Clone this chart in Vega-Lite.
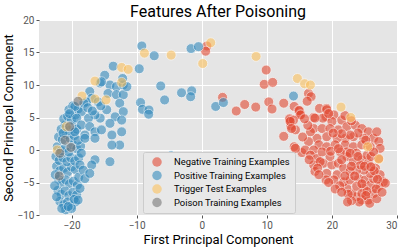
{
"$schema": "https://vega.github.io/schema/vega-lite/v6.json",
"width": 358, "height": 195,
"autosize": {"type": "none"},
"padding": {"left": 39, "top": 20, "right": 10, "bottom": 32},
"background": "white",
"title": {"text": "Features After Poisoning", "font": "Roboto", "fontSize": 16, "fontWeight": "normal", "color": "black", "offset": -5},
"config": {"view": {"fill": "#E5E5E5", "stroke": null},
 "axis": {"grid": true, "gridColor": "white", "gridWidth": 1, "domain": false, "tickColor": "#555", "tickSize": 3, "labelFont": "Roboto", "labelFontSize": 10, "labelColor": "#555", "titleFont": "Roboto", "titleFontSize": 13, "titleFontWeight": "normal", "titleColor": "black", "labelPadding": 2}},
"data": {"values": [
{"x":0.8,"y":16.0,"g":"Negative Training Examples"},{"x":0.6,"y":15.2,"g":"Negative Training Examples"},{"x":9.9,"y":12.3,"g":"Negative Training Examples"},{"x":9.6,"y":10.1,"g":"Negative Training Examples"},{"x":10.9,"y":10.4,"g":"Negative Training Examples"},{"x":3.2,"y":8.1,"g":"Negative Training Examples"},{"x":5.3,"y":6.0,"g":"Negative Training Examples"},{"x":6.6,"y":7.0,"g":"Negative Training Examples"},{"x":8.3,"y":6.6,"g":"Negative Training Examples"},{"x":10.3,"y":7.4,"g":"Negative Training Examples"},{"x":10.8,"y":6.3,"g":"Negative Training Examples"},{"x":12.6,"y":7.2,"g":"Negative Training Examples"},{"x":12.6,"y":2.1,"g":"Negative Training Examples"},{"x":13.5,"y":4.5,"g":"Negative Training Examples"},{"x":13.7,"y":3.7,"g":"Negative Training Examples"},{"x":14.4,"y":3.1,"g":"Negative Training Examples"},{"x":14.2,"y":0.5,"g":"Negative Training Examples"},{"x":15.4,"y":-0.4,"g":"Negative Training Examples"},{"x":14.2,"y":6.7,"g":"Negative Training Examples"},{"x":14.9,"y":6.1,"g":"Negative Training Examples"},{"x":15.1,"y":5.4,"g":"Negative Training Examples"},{"x":16.4,"y":8.7,"g":"Negative Training Examples"},{"x":16.8,"y":8.2,"g":"Negative Training Examples"},{"x":16.2,"y":7.5,"g":"Negative Training Examples"},{"x":15.0,"y":6.05,"g":"Negative Training Examples"},{"x":13.5,"y":4.8,"g":"Negative Training Examples"},{"x":15.2,"y":5.4,"g":"Negative Training Examples"},{"x":18.1,"y":6.4,"g":"Negative Training Examples"},{"x":19.2,"y":6.4,"g":"Negative Training Examples"},{"x":17.2,"y":5.0,"g":"Negative Training Examples"},{"x":19.1,"y":5.1,"g":"Negative Training Examples"},{"x":9.5,"y":-4.1,"g":"Negative Training Examples"},{"x":14.1,"y":4.6,"g":"Negative Training Examples"},{"x":13.6,"y":4.4,"g":"Negative Training Examples"},{"x":13.8,"y":3.3,"g":"Negative Training Examples"},{"x":19.2,"y":6.2,"g":"Negative Training Examples"},{"x":20.3,"y":5.4,"g":"Negative Training Examples"},{"x":21.5,"y":4.6,"g":"Negative Training Examples"},{"x":20.0,"y":4.4,"g":"Negative Training Examples"},{"x":18.6,"y":4.9,"g":"Negative Training Examples"},{"x":17.4,"y":4.9,"g":"Negative Training Examples"},{"x":17.2,"y":3.3,"g":"Negative Training Examples"},{"x":18.5,"y":3.3,"g":"Negative Training Examples"},{"x":19.7,"y":3.3,"g":"Negative Training Examples"},{"x":21.0,"y":3.1,"g":"Negative Training Examples"},{"x":22.3,"y":3.6,"g":"Negative Training Examples"},{"x":23.6,"y":3.8,"g":"Negative Training Examples"},{"x":24.6,"y":3.3,"g":"Negative Training Examples"},{"x":25.6,"y":2.8,"g":"Negative Training Examples"},{"x":26.4,"y":1.8,"g":"Negative Training Examples"},{"x":26.9,"y":2.8,"g":"Negative Training Examples"},{"x":27.2,"y":1.3,"g":"Negative Training Examples"},{"x":24.9,"y":1.8,"g":"Negative Training Examples"},{"x":23.3,"y":2.05,"g":"Negative Training Examples"},{"x":22.05,"y":1.8,"g":"Negative Training Examples"},{"x":20.8,"y":1.8,"g":"Negative Training Examples"},{"x":19.2,"y":2.05,"g":"Negative Training Examples"},{"x":17.7,"y":1.8,"g":"Negative Training Examples"},{"x":16.7,"y":2.8,"g":"Negative Training Examples"},{"x":16.4,"y":1.3,"g":"Negative Training Examples"},{"x":18.0,"y":0.8,"g":"Negative Training Examples"},{"x":19.2,"y":0.5,"g":"Negative Training Examples"},{"x":20.5,"y":0.8,"g":"Negative Training Examples"},{"x":22.05,"y":0.8,"g":"Negative Training Examples"},{"x":23.3,"y":0.5,"g":"Negative Training Examples"},{"x":24.6,"y":0.8,"g":"Negative Training Examples"},{"x":25.9,"y":0.5,"g":"Negative Training Examples"},{"x":27.4,"y":0.25,"g":"Negative Training Examples"},{"x":14.4,"y":0.25,"g":"Negative Training Examples"},{"x":15.9,"y":0.0,"g":"Negative Training Examples"},{"x":17.2,"y":0.0,"g":"Negative Training Examples"},{"x":22.3,"y":-0.3,"g":"Negative Training Examples"},{"x":23.8,"y":-0.5,"g":"Negative Training Examples"},{"x":16.7,"y":-0.8,"g":"Negative Training Examples"},{"x":17.7,"y":-1.3,"g":"Negative Training Examples"},{"x":17.2,"y":-2.3,"g":"Negative Training Examples"},{"x":18.7,"y":-2.05,"g":"Negative Training Examples"},{"x":20.0,"y":-2.3,"g":"Negative Training Examples"},{"x":21.0,"y":-2.05,"g":"Negative Training Examples"},{"x":17.4,"y":-3.3,"g":"Negative Training Examples"},{"x":19.2,"y":-3.6,"g":"Negative Training Examples"},{"x":20.8,"y":-3.8,"g":"Negative Training Examples"},{"x":21.8,"y":-2.8,"g":"Negative Training Examples"},{"x":22.3,"y":-1.0,"g":"Negative Training Examples"},{"x":23.3,"y":-1.8,"g":"Negative Training Examples"},{"x":24.6,"y":-1.5,"g":"Negative Training Examples"},{"x":25.6,"y":-2.05,"g":"Negative Training Examples"},{"x":26.7,"y":-2.8,"g":"Negative Training Examples"},{"x":27.4,"y":-3.8,"g":"Negative Training Examples"},{"x":27.9,"y":-4.9,"g":"Negative Training Examples"},{"x":27.2,"y":-5.6,"g":"Negative Training Examples"},{"x":26.4,"y":-6.7,"g":"Negative Training Examples"},{"x":25.6,"y":-7.7,"g":"Negative Training Examples"},{"x":24.6,"y":-7.7,"g":"Negative Training Examples"},{"x":23.8,"y":-7.2,"g":"Negative Training Examples"},{"x":23.1,"y":-6.7,"g":"Negative Training Examples"},{"x":22.3,"y":-5.9,"g":"Negative Training Examples"},{"x":21.8,"y":-4.9,"g":"Negative Training Examples"},{"x":22.8,"y":-4.6,"g":"Negative Training Examples"},{"x":24.1,"y":-4.4,"g":"Negative Training Examples"},{"x":25.1,"y":-4.6,"g":"Negative Training Examples"},{"x":25.9,"y":-5.4,"g":"Negative Training Examples"},{"x":24.9,"y":-5.9,"g":"Negative Training Examples"},{"x":23.8,"y":-5.6,"g":"Negative Training Examples"},{"x":24.6,"y":-6.7,"g":"Negative Training Examples"},{"x":25.4,"y":-6.4,"g":"Negative Training Examples"},{"x":26.4,"y":-4.4,"g":"Negative Training Examples"},{"x":25.9,"y":-3.6,"g":"Negative Training Examples"},{"x":24.9,"y":-3.1,"g":"Negative Training Examples"},{"x":23.8,"y":-3.1,"g":"Negative Training Examples"},{"x":22.8,"y":-3.3,"g":"Negative Training Examples"},{"x":24.4,"y":-2.3,"g":"Negative Training Examples"},{"x":25.4,"y":-0.8,"g":"Negative Training Examples"},{"x":19.7,"y":-1.0,"g":"Negative Training Examples"},{"x":18.5,"y":-0.3,"g":"Negative Training Examples"},{"x":21.3,"y":-0.3,"g":"Negative Training Examples"},{"x":27.2,"y":-1.3,"g":"Negative Training Examples"},{"x":28.2,"y":-5.1,"g":"Negative Training Examples"},{"x":22.8,"y":-0.5,"g":"Negative Training Examples"},{"x":20.3,"y":-4.6,"g":"Negative Training Examples"},{"x":19.1,"y":-4.6,"g":"Negative Training Examples"},{"x":18.2,"y":-1.8,"g":"Negative Training Examples"},{"x":21.5,"y":-1.5,"g":"Negative Training Examples"},{"x":23.0,"y":-2.5,"g":"Negative Training Examples"},{"x":24.0,"y":-1.0,"g":"Negative Training Examples"},{"x":25.0,"y":-2.5,"g":"Negative Training Examples"},{"x":26.0,"y":-1.0,"g":"Negative Training Examples"},{"x":26.5,"y":-3.2,"g":"Negative Training Examples"},{"x":27.0,"y":-4.5,"g":"Negative Training Examples"},{"x":26.8,"y":-6.0,"g":"Negative Training Examples"},{"x":25.2,"y":-7.0,"g":"Negative Training Examples"},{"x":24.2,"y":-8.0,"g":"Negative Training Examples"},{"x":23.0,"y":-7.8,"g":"Negative Training Examples"},{"x":22.5,"y":-6.8,"g":"Negative Training Examples"},{"x":21.2,"y":-5.5,"g":"Negative Training Examples"},{"x":22.0,"y":-4.0,"g":"Negative Training Examples"},{"x":23.5,"y":-4.0,"g":"Negative Training Examples"},{"x":24.6,"y":-5.2,"g":"Negative Training Examples"},{"x":26.0,"y":-2.6,"g":"Negative Training Examples"},{"x":24.0,"y":2.6,"g":"Negative Training Examples"},{"x":22.8,"y":2.3,"g":"Negative Training Examples"},{"x":21.5,"y":2.5,"g":"Negative Training Examples"},{"x":20.2,"y":2.6,"g":"Negative Training Examples"},{"x":19.8,"y":-0.2,"g":"Negative Training Examples"},{"x":21.0,"y":0.2,"g":"Negative Training Examples"},{"x":26.4,"y":-0.3,"g":"Negative Training Examples"},{"x":25.2,"y":1.5,"g":"Negative Training Examples"},{"x":17.8,"y":-2.8,"g":"Negative Training Examples"},{"x":16.5,"y":-1.5,"g":"Negative Training Examples"},{"x":18.0,"y":-3.8,"g":"Negative Training Examples"},{"x":19.5,"y":-5.0,"g":"Negative Training Examples"},{"x":20.5,"y":-6.0,"g":"Negative Training Examples"},{"x":21.5,"y":-6.5,"g":"Negative Training Examples"},{"x":22.4,"y":-8.0,"g":"Negative Training Examples"},{"x":25.8,"y":-8.2,"g":"Negative Training Examples"},{"x":26.9,"y":-7.5,"g":"Negative Training Examples"},{"x":27.7,"y":-6.5,"g":"Negative Training Examples"},{"x":22.0,"y":5.3,"g":"Negative Training Examples"},{"x":19.5,"y":5.6,"g":"Negative Training Examples"},{"x":23.0,"y":4.5,"g":"Negative Training Examples"},{"x":16.3,"y":3.8,"g":"Negative Training Examples"},{"x":15.5,"y":2.0,"g":"Negative Training Examples"},{"x":15.8,"y":4.8,"g":"Negative Training Examples"},
{"x":-22.3,"y":-2.5,"g":"Positive Training Examples"},{"x":-21.8,"y":-3.2,"g":"Positive Training Examples"},{"x":-21.2,"y":-2.8,"g":"Positive Training Examples"},{"x":-20.6,"y":-3.4,"g":"Positive Training Examples"},{"x":-20.0,"y":-2.6,"g":"Positive Training Examples"},{"x":-19.4,"y":-3.0,"g":"Positive Training Examples"},{"x":-22.0,"y":-4.5,"g":"Positive Training Examples"},{"x":-21.5,"y":-5.0,"g":"Positive Training Examples"},{"x":-20.9,"y":-4.6,"g":"Positive Training Examples"},{"x":-20.3,"y":-5.2,"g":"Positive Training Examples"},{"x":-19.7,"y":-4.8,"g":"Positive Training Examples"},{"x":-19.1,"y":-5.4,"g":"Positive Training Examples"},{"x":-22.1,"y":-6.2,"g":"Positive Training Examples"},{"x":-21.6,"y":-6.8,"g":"Positive Training Examples"},{"x":-21.0,"y":-6.3,"g":"Positive Training Examples"},{"x":-20.4,"y":-7.0,"g":"Positive Training Examples"},{"x":-19.8,"y":-6.5,"g":"Positive Training Examples"},{"x":-19.2,"y":-6.9,"g":"Positive Training Examples"},{"x":-21.8,"y":-7.9,"g":"Positive Training Examples"},{"x":-21.2,"y":-8.4,"g":"Positive Training Examples"},{"x":-20.6,"y":-8.0,"g":"Positive Training Examples"},{"x":-20.0,"y":-8.6,"g":"Positive Training Examples"},{"x":-19.4,"y":-8.0,"g":"Positive Training Examples"},{"x":-20.9,"y":-9.2,"g":"Positive Training Examples"},{"x":-22.4,"y":-1.0,"g":"Positive Training Examples"},{"x":-21.9,"y":-1.6,"g":"Positive Training Examples"},{"x":-21.3,"y":-1.2,"g":"Positive Training Examples"},{"x":-20.7,"y":-1.8,"g":"Positive Training Examples"},{"x":-20.1,"y":-1.2,"g":"Positive Training Examples"},{"x":-19.5,"y":-1.7,"g":"Positive Training Examples"},{"x":-18.9,"y":-1.2,"g":"Positive Training Examples"},{"x":-22.2,"y":0.5,"g":"Positive Training Examples"},{"x":-21.6,"y":-0.1,"g":"Positive Training Examples"},{"x":-21.0,"y":0.3,"g":"Positive Training Examples"},{"x":-20.4,"y":-0.3,"g":"Positive Training Examples"},{"x":-19.8,"y":0.8,"g":"Positive Training Examples"},{"x":-19.2,"y":0.2,"g":"Positive Training Examples"},{"x":-18.6,"y":0.6,"g":"Positive Training Examples"},{"x":-22.0,"y":2.0,"g":"Positive Training Examples"},{"x":-21.4,"y":1.6,"g":"Positive Training Examples"},{"x":-20.8,"y":2.4,"g":"Positive Training Examples"},{"x":-20.2,"y":1.8,"g":"Positive Training Examples"},{"x":-19.6,"y":2.2,"g":"Positive Training Examples"},{"x":-19.0,"y":1.5,"g":"Positive Training Examples"},{"x":-21.6,"y":3.2,"g":"Positive Training Examples"},{"x":-21.0,"y":3.8,"g":"Positive Training Examples"},{"x":-20.4,"y":3.0,"g":"Positive Training Examples"},{"x":-19.8,"y":3.6,"g":"Positive Training Examples"},{"x":-19.2,"y":3.2,"g":"Positive Training Examples"},{"x":-21.2,"y":4.8,"g":"Positive Training Examples"},{"x":-20.6,"y":5.2,"g":"Positive Training Examples"},{"x":-20.0,"y":4.6,"g":"Positive Training Examples"},{"x":-19.4,"y":5.4,"g":"Positive Training Examples"},{"x":-20.4,"y":6.2,"g":"Positive Training Examples"},{"x":-19.8,"y":6.8,"g":"Positive Training Examples"},{"x":-19.0,"y":6.3,"g":"Positive Training Examples"},{"x":-22.5,"y":-3.8,"g":"Positive Training Examples"},{"x":-22.6,"y":-5.5,"g":"Positive Training Examples"},{"x":-22.3,"y":-7.2,"g":"Positive Training Examples"},{"x":-21.5,"y":-9.0,"g":"Positive Training Examples"},{"x":-19.6,"y":-7.6,"g":"Positive Training Examples"},{"x":-18.9,"y":-4.2,"g":"Positive Training Examples"},{"x":-18.7,"y":-2.3,"g":"Positive Training Examples"},{"x":-18.5,"y":-0.5,"g":"Positive Training Examples"},{"x":-13.6,"y":12.9,"g":"Positive Training Examples"},{"x":-14.9,"y":11.5,"g":"Positive Training Examples"},{"x":-15.6,"y":10.3,"g":"Positive Training Examples"},{"x":-14.1,"y":10.0,"g":"Positive Training Examples"},{"x":-13.1,"y":9.75,"g":"Positive Training Examples"},{"x":-12.05,"y":10.0,"g":"Positive Training Examples"},{"x":-12.15,"y":11.0,"g":"Positive Training Examples"},{"x":-14.4,"y":8.7,"g":"Positive Training Examples"},{"x":-13.1,"y":8.5,"g":"Positive Training Examples"},{"x":-12.05,"y":8.5,"g":"Positive Training Examples"},{"x":-17.2,"y":9.0,"g":"Positive Training Examples"},{"x":-16.9,"y":7.95,"g":"Positive Training Examples"},{"x":-17.7,"y":7.4,"g":"Positive Training Examples"},{"x":-15.9,"y":7.4,"g":"Positive Training Examples"},{"x":-14.6,"y":6.2,"g":"Positive Training Examples"},{"x":-12.6,"y":7.2,"g":"Positive Training Examples"},{"x":-12.05,"y":5.9,"g":"Positive Training Examples"},{"x":-13.3,"y":5.1,"g":"Positive Training Examples"},{"x":-12.3,"y":4.6,"g":"Positive Training Examples"},{"x":-14.1,"y":4.1,"g":"Positive Training Examples"},{"x":-15.6,"y":4.9,"g":"Positive Training Examples"},{"x":-16.4,"y":5.4,"g":"Positive Training Examples"},{"x":-17.4,"y":4.9,"g":"Positive Training Examples"},{"x":-18.5,"y":5.9,"g":"Positive Training Examples"},{"x":-19.5,"y":6.7,"g":"Positive Training Examples"},{"x":-20.3,"y":5.6,"g":"Positive Training Examples"},{"x":-19.2,"y":4.9,"g":"Positive Training Examples"},{"x":-18.5,"y":3.85,"g":"Positive Training Examples"},{"x":-17.2,"y":3.6,"g":"Positive Training Examples"},{"x":-16.4,"y":2.8,"g":"Positive Training Examples"},{"x":-15.4,"y":3.1,"g":"Positive Training Examples"},{"x":-13.8,"y":2.3,"g":"Positive Training Examples"},{"x":-12.3,"y":2.8,"g":"Positive Training Examples"},{"x":-21.3,"y":2.6,"g":"Positive Training Examples"},{"x":-19.5,"y":2.8,"g":"Positive Training Examples"},{"x":-17.95,"y":2.3,"g":"Positive Training Examples"},{"x":-17.95,"y":1.8,"g":"Positive Training Examples"},{"x":-16.4,"y":1.8,"g":"Positive Training Examples"},{"x":-12.6,"y":0.76,"g":"Positive Training Examples"},{"x":-13.8,"y":0.76,"g":"Positive Training Examples"},{"x":-16.4,"y":-1.5,"g":"Positive Training Examples"},{"x":-16.9,"y":-2.3,"g":"Positive Training Examples"},{"x":-18.2,"y":-3.1,"g":"Positive Training Examples"},{"x":-14.1,"y":-1.8,"g":"Positive Training Examples"},{"x":-17.95,"y":-4.4,"g":"Positive Training Examples"},{"x":-18.7,"y":-5.9,"g":"Positive Training Examples"},{"x":-19.0,"y":-7.7,"g":"Positive Training Examples"},{"x":-20.0,"y":-9.0,"g":"Positive Training Examples"},{"x":-20.5,"y":-8.7,"g":"Positive Training Examples"},{"x":-9.2,"y":16.0,"g":"Positive Training Examples"},{"x":-7.3,"y":14.5,"g":"Positive Training Examples"},{"x":-1.64,"y":15.6,"g":"Positive Training Examples"},{"x":-0.5,"y":15.9,"g":"Positive Training Examples"},{"x":-9.6,"y":12.5,"g":"Positive Training Examples"},{"x":-6.3,"y":9.85,"g":"Positive Training Examples"},{"x":-5.7,"y":7.7,"g":"Positive Training Examples"},{"x":-3.1,"y":8.8,"g":"Positive Training Examples"},{"x":-1.54,"y":9.1,"g":"Positive Training Examples"},{"x":-1.7,"y":8.2,"g":"Positive Training Examples"},{"x":-9.4,"y":7.3,"g":"Positive Training Examples"},{"x":-9.1,"y":6.25,"g":"Positive Training Examples"},{"x":-8.1,"y":6.15,"g":"Positive Training Examples"},{"x":-8.15,"y":5.5,"g":"Positive Training Examples"},{"x":2.15,"y":6.7,"g":"Positive Training Examples"},{"x":3.33,"y":7.3,"g":"Positive Training Examples"},{"x":14.1,"y":8.3,"g":"Positive Training Examples"},{"x":-4.7,"y":-0.9,"g":"Positive Training Examples"},{"x":-11.5,"y":9.75,"g":"Positive Training Examples"},{"x":-17.2,"y":-3.6,"g":"Positive Training Examples"},{"x":-18.1,"y":7.2,"g":"Positive Training Examples"},{"x":-17.5,"y":6.5,"g":"Positive Training Examples"},{"x":-16.8,"y":6.0,"g":"Positive Training Examples"},{"x":-15.5,"y":6.8,"g":"Positive Training Examples"},{"x":-15.4,"y":10.5,"g":"Positive Training Examples"},
{"x":1.38,"y":16.5,"g":"Trigger Test Examples"},{"x":-8.8,"y":14.9,"g":"Trigger Test Examples"},{"x":-4.7,"y":14.6,"g":"Trigger Test Examples"},{"x":0.15,"y":13.3,"g":"Trigger Test Examples"},{"x":8.35,"y":14.4,"g":"Trigger Test Examples"},{"x":-12.3,"y":12.7,"g":"Trigger Test Examples"},{"x":-11.3,"y":12.4,"g":"Trigger Test Examples"},{"x":-12.3,"y":10.4,"g":"Trigger Test Examples"},{"x":-16.4,"y":10.6,"g":"Trigger Test Examples"},{"x":-16.4,"y":7.85,"g":"Trigger Test Examples"},{"x":-14.7,"y":7.7,"g":"Trigger Test Examples"},{"x":-18.4,"y":8.3,"g":"Trigger Test Examples"},{"x":-20.8,"y":3.6,"g":"Trigger Test Examples"},{"x":14.7,"y":11.0,"g":"Trigger Test Examples"},{"x":15.8,"y":10.2,"g":"Trigger Test Examples"},{"x":16.7,"y":10.0,"g":"Trigger Test Examples"},{"x":21.4,"y":6.6,"g":"Trigger Test Examples"},{"x":22.9,"y":5.0,"g":"Trigger Test Examples"},{"x":25.5,"y":0.5,"g":"Trigger Test Examples"},{"x":27.2,"y":-1.4,"g":"Trigger Test Examples"},{"x":-22.2,"y":0.0,"g":"Trigger Test Examples"},
{"x":-19.0,"y":7.5,"g":"Poison Training Examples"},{"x":-20.3,"y":3.6,"g":"Poison Training Examples"},{"x":-21.0,"y":1.5,"g":"Poison Training Examples"},{"x":-20.1,"y":0.4,"g":"Poison Training Examples"},{"x":-21.8,"y":-0.5,"g":"Poison Training Examples"},{"x":-21.9,"y":-4.0,"g":"Poison Training Examples"}
]},
"mark": {"type": "point", "filled": true, "size": 100, "stroke": "white", "strokeWidth": 0.8},
"encoding": {
 "x": {"field": "x", "type": "quantitative", "scale": {"domain": [-25, 30], "nice": false, "zero": false}, "axis": {"values": [-20, -10, 0, 10, 20, 30], "title": "First Principal Component", "titlePadding": 3}},
 "y": {"field": "y", "type": "quantitative", "scale": {"domain": [-10, 20], "nice": false, "zero": false}, "axis": {"values": [-10, -5, 0, 5, 10, 15, 20], "title": "Second Principal Component", "titlePadding": 2}},
 "color": {"field": "g", "type": "nominal", "scale": {"domain": ["Negative Training Examples", "Positive Training Examples", "Trigger Test Examples", "Poison Training Examples"], "range": ["#E24A33", "#348ABD", "#FBC15E", "#777777"]},
  "legend": {"title": null, "orient": "none", "legendX": 104, "legendY": 132, "fillColor": "#E8E8E8", "strokeColor": "#CCCCCC", "padding": 5, "cornerRadius": 2, "symbolSize": 90, "symbolOffset": 4, "symbolStrokeWidth": 0, "labelFont": "Roboto", "labelFontSize": 9.4, "labelColor": "black", "labelOffset": 12, "rowPadding": 3.5}},
 "opacity": {"field": "g", "type": "nominal", "scale": {"domain": ["Negative Training Examples", "Positive Training Examples", "Trigger Test Examples", "Poison Training Examples"], "range": [0.6, 0.6, 1, 1]}}
}
}
